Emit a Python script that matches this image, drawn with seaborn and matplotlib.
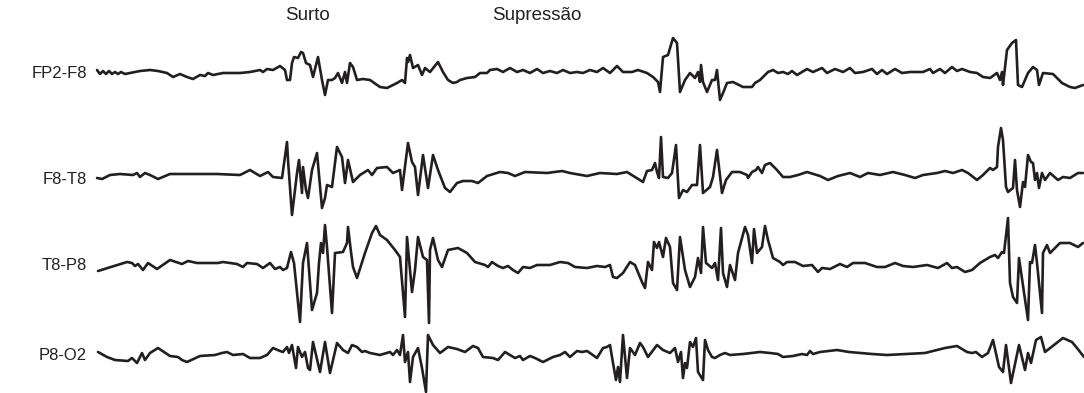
import matplotlib
matplotlib.use("Agg")
import matplotlib.pyplot as plt
import seaborn as sns

# EEG montage, burst-suppression pattern. Times in screen samples, amplitudes in px-scaled uV (up = positive)
channels = ["FP2-F8", "F8-T8", "T8-P8", "P8-O2"]

fp2_f8_t = [97, 100, 103, 106, 109, 112, 115, 118, 121, 125, 130, 135, 140, 150, 158, 167, 173, 180, 187, 193,
            200, 205, 208, 213, 223, 240, 250, 260, 263, 267, 273, 280, 285, 287, 290, 292, 294, 298, 301, 303,
            306, 310, 313, 318, 322, 325, 328, 332, 335, 338, 342, 345, 347, 350, 353, 357, 363, 370, 380, 387,
            397, 402, 405, 407, 408, 410, 413, 418, 422, 425, 430, 438, 443, 448, 453, 457, 460, 467, 475, 480,
            487, 490, 497, 503, 510, 517, 523, 530, 537, 543, 550, 557, 563, 570, 577, 583, 590, 597, 603, 610,
            617, 623, 632, 638, 647, 653, 658, 660, 663, 668, 673, 677, 680, 685, 690, 695, 698, 700, 701, 703,
            707, 712, 715, 717, 720, 723, 727, 733, 743, 752, 755, 760, 763, 768, 773, 778, 783, 788, 792, 797,
            807, 813, 822, 827, 835, 843, 850, 855, 863, 872, 877, 882, 887, 895, 902, 910, 923, 930, 933, 940,
            945, 952, 957, 962, 970, 977, 983, 990, 997, 1000, 1002, 1003, 1007, 1012, 1016, 1018, 1022, 1028, 1033, 1037,
            1039, 1043, 1053, 1062, 1070, 1075, 1083]
fp2_f8_v = [2, -2, 1, -2, 1, -2, 0, -2, 0, -2, -1, 0, 1, 2, 1, -1, -5, -2, -5, -7,
            -3, -4, -1, -3, -1, -1, 0, 2, 0, 3, 2, 6, 2, -8, -8, 9, 15, 14, 20, 19,
            9, 7, -5, 15, -8, -23, -8, -8, -6, -1, -11, 0, -11, 9, 5, -8, -7, -8, -15, -16,
            -11, -8, -11, 14, 10, 17, 4, 7, -3, 4, 0, 10, 0, -8, -11, -10, -8, -6, -5, -1,
            -1, 2, 3, 0, 4, 0, 2, -1, 3, -1, 1, -1, 2, -1, 0, -1, 2, 0, 4, -1,
            6, 0, 0, 2, -1, -5, -10, -20, 15, 17, 34, 29, -20, -8, -1, -6, 0, -10, 7, -10,
            -20, -8, -8, 2, -28, -21, -11, -10, -15, -15, -11, -8, -5, 0, 2, -1, 0, -2, 1, -3,
            3, 0, 4, -1, 3, 0, 4, -1, 0, 3, -2, 2, -2, 3, -1, 0, 0, 3, -1, 3,
            -1, 5, 1, 3, 0, -1, -5, -6, -1, -8, 0, -13, 22, 29, 32, -13, -15, -1, 5, 2,
            -13, -1, -2, -11, -15, -16, -13]

f8_t8_t = [97, 102, 110, 120, 133, 137, 140, 145, 150, 158, 170, 190, 217, 240, 250, 260, 268, 273, 282, 287,
           288, 292, 297, 299, 302, 303, 306, 308, 312, 317, 322, 325, 327, 332, 337, 342, 345, 348, 353, 360,
           368, 372, 377, 387, 393, 400, 402, 408, 412, 415, 418, 423, 428, 433, 438, 445, 450, 457, 463, 472,
           478, 487, 500, 508, 515, 525, 547, 562, 570, 587, 600, 617, 627, 635, 643, 647, 652, 655, 657, 659,
           661, 663, 668, 672, 676, 679, 683, 687, 692, 697, 700, 703, 710, 713, 717, 722, 726, 732, 740, 747,
           748, 752, 756, 758, 762, 765, 770, 777, 783, 790, 798, 807, 820, 828, 838, 850, 860, 868, 880, 893,
           905, 915, 923, 937, 945, 953, 962, 968, 977, 983, 990, 993, 997, 998, 1001, 1003, 1006, 1008, 1013, 1015,
           1017, 1020, 1023, 1025, 1028, 1031, 1033, 1035, 1037, 1039, 1042, 1045, 1050, 1058, 1063, 1070, 1078, 1083]
f8_t8_v = [0, -1, 3, 4, 3, 5, 1, 5, 3, -1, 4, 4, 4, 3, 8, 2, 6, 1, 0, 36,
           18, -37, 5, 18, -15, 11, -12, -20, 8, 25, -30, -20, -7, -9, 31, 21, -5, 18, -4, 3,
           8, 3, 10, 11, 5, 8, -12, 35, 16, 11, -17, 23, -10, 23, 8, -10, -14, -5, -3, -3,
           -5, 2, 6, 5, 2, 6, 5, 7, 5, 2, 5, 4, 6, 1, -4, 7, 8, 15, 6, 0,
           41, 1, 0, 5, 33, -20, -12, -14, -7, -7, 33, -15, -9, 1, 28, -15, -2, 6, 6, 3,
           0, 6, 8, 11, 5, 13, 15, 8, 1, 1, 3, 6, 2, -2, 2, 5, 1, 5, 3, 6,
           3, 0, 3, 5, 7, 5, 8, 5, -2, 3, 10, 8, 11, 31, 50, 38, -9, -14, -10, 18,
           -12, -29, -4, -9, 23, 16, 15, -2, 5, -10, 5, -2, 5, -2, 1, 0, 5, 5]

t8_p8_t = [98, 127, 132, 135, 138, 143, 148, 157, 170, 182, 188, 197, 218, 223, 237, 243, 247, 257, 263, 270,
           275, 280, 283, 287, 291, 294, 300, 303, 307, 312, 317, 319, 321, 323, 325, 327, 332, 335, 343, 347,
           348, 351, 353, 357, 365, 372, 376, 380, 387, 395, 400, 405, 407, 412, 415, 418, 423, 427, 429, 430,
           433, 438, 442, 448, 458, 467, 475, 485, 488, 492, 498, 503, 508, 513, 518, 523, 530, 537, 550, 560,
           568, 575, 587, 597, 605, 610, 613, 617, 623, 630, 635, 642, 645, 648, 652, 654, 657, 659, 663, 666,
           670, 673, 677, 680, 685, 690, 695, 698, 701, 703, 706, 712, 715, 718, 721, 723, 727, 730, 735, 738,
           745, 748, 752, 754, 757, 762, 765, 768, 773, 780, 783, 787, 795, 803, 812, 818, 822, 830, 840, 847,
           853, 865, 877, 885, 895, 903, 913, 927, 938, 947, 952, 957, 965, 972, 980, 990, 995, 998, 1002, 1004,
           1008, 1010, 1013, 1017, 1019, 1028, 1030, 1032, 1035, 1037, 1042, 1043, 1047, 1050, 1055, 1060, 1070, 1078, 1083]
t8_p8_v = [-6, 3, 2, -1, 1, -5, 2, -4, 5, 1, 4, 2, 2, 3, 1, -2, 2, 1, -3, 2,
           -4, -2, -5, -3, 13, 2, -57, 2, 22, -45, -28, 2, 22, 12, 40, 18, -48, 12, 13, 22,
           38, 13, -2, -13, 12, 32, 39, 30, 25, 15, 8, -52, 28, -27, -5, 28, 8, 5, -58, 15,
           27, 5, -2, 15, 17, 12, 3, 0, -2, 3, -1, -3, -1, -5, -8, -2, -3, 0, 0, 3,
           2, -2, -3, -1, -2, 0, -12, -13, -8, 3, 0, -17, -23, 3, -5, 23, 17, 23, 8, 27,
           18, -18, -25, 28, -5, -22, -12, 7, -8, 38, 2, -3, 2, -15, 37, -8, -22, 0, -15, 12,
           38, 30, 2, 36, 12, 18, 39, 25, 7, 3, 0, 3, 3, -1, 0, -7, -3, -4, 1, -2,
           2, 2, -2, -2, 2, -1, -2, 0, -3, 2, -3, -2, -7, -5, 2, 8, 10, 7, 13, 12,
           47, -18, -32, -38, 7, -55, 3, 2, 20, 2, -48, 12, 20, 12, 17, 22, 22, 18, 22]

p8_o2_t = [98, 107, 115, 128, 132, 137, 142, 145, 150, 158, 170, 178, 182, 187, 200, 215, 222, 227, 233, 243,
           250, 260, 267, 273, 280, 283, 287, 289, 292, 296, 298, 302, 305, 308, 310, 313, 320, 325, 330, 337,
           343, 348, 352, 357, 362, 365, 370, 380, 390, 393, 397, 400, 403, 405, 408, 410, 413, 418, 422, 426,
           428, 433, 440, 448, 457, 465, 473, 478, 483, 493, 498, 505, 510, 515, 520, 523, 530, 535, 543, 553,
           560, 565, 570, 577, 582, 587, 590, 597, 603, 607, 610, 613, 616, 618, 620, 623, 627, 630, 635, 640,
           643, 648, 657, 663, 670, 675, 678, 681, 683, 685, 687, 690, 693, 696, 698, 703, 705, 708, 712, 715,
           720, 725, 730, 743, 760, 770, 778, 783, 793, 802, 807, 810, 813, 820, 837, 849, 861, 872, 887, 925,
           945, 957, 967, 972, 976, 982, 988, 993, 999, 1003, 1006, 1011, 1019, 1025, 1028, 1031, 1036, 1041, 1045, 1054,
           1063, 1072, 1077, 1084]
p8_o2_v = [3, -2, -5, -6, -3, -8, 2, -5, 2, 7, -1, -2, -5, -7, -1, 0, 2, 3, 0, 1,
           -3, -3, 0, 7, 4, 3, 8, 2, 10, -13, 8, -2, 3, -13, -15, 13, -17, 13, -18, 12,
           5, 2, 10, 8, 3, 4, 2, 0, 3, 0, 5, 0, 20, -7, 3, -27, -2, 7, -13, -37,
           20, 10, 2, 8, 6, 3, 9, 7, -2, -3, -5, 3, 0, -3, -1, -5, -1, -3, -7, -2,
           0, 3, -2, 4, 3, 4, 2, -3, 7, 8, 10, -8, -25, -12, -27, 20, -23, 7, 0, 12,
           8, -2, 10, 5, 2, 7, -7, 3, -23, -8, -13, 13, 8, 17, -17, -25, 15, 5, -2, -3,
           0, 2, 0, 1, 3, 2, 1, -2, -1, 1, 0, 4, 1, 3, 5, 3, 2, 1, 0, 2,
           7, 9, 3, 2, 3, -2, 2, 15, -12, -17, 10, -28, 10, -15, 2, -8, 15, 18, 3, 10,
           17, 13, 7, -2]

traces = {
    "FP2-F8": (fp2_f8_t, fp2_f8_v),
    "F8-T8": (f8_t8_t, f8_t8_v),
    "T8-P8": (t8_p8_t, t8_p8_v),
    "P8-O2": (p8_o2_t, p8_o2_v),
}

# layout: vertical position of each channel row (px from top)
row_pos = {"FP2-F8": 72, "F8-T8": 178, "T8-P8": 265, "P8-O2": 355}

sns.set_style("white")
plt.rcParams["font.family"] = ["Liberation Sans", "DejaVu Sans"]

fig = plt.figure(figsize=(10.84, 3.93), dpi=100)
ax = fig.add_axes([0, 0, 1, 1])

ink = "#231f20"
for ch in channels:
    t, v = traces[ch]
    y = [row_pos[ch] - a for a in v]
    sns.lineplot(x=t, y=y, ax=ax, estimator=None, sort=False, color=ink,
                 linewidth=1.9, solid_joinstyle="round", solid_capstyle="round")
    ax.text(87, row_pos[ch] + 1, ch, ha="right", va="center", fontsize=12, color=ink)

ax.text(307, 16, "Surto", ha="center", va="center", fontsize=13.5, color=ink)
ax.text(537, 16, "Supressão", ha="center", va="center", fontsize=13.5, color=ink)

ax.set_xlim(0, 1084)
ax.set_ylim(393, 0)
ax.axis("off")

fig.savefig("out.png", dpi=100)
